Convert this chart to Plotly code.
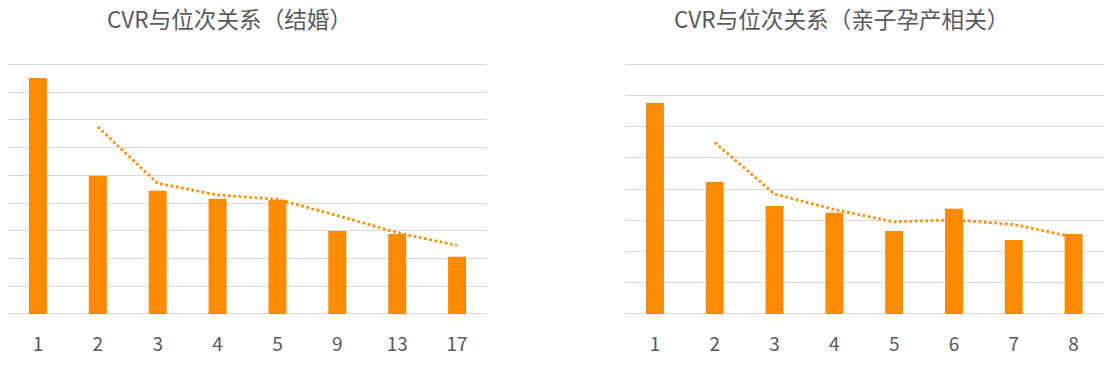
import plotly.graph_objects as go
import pandas as pd

# Left chart: 结婚
cats_left = ["1", "2", "3", "4", "5", "9", "13", "17"]
vals_left = [8.51, 4.98, 4.44, 4.15, 4.11, 2.99, 2.88, 2.06]

# Right chart: 亲子孕产相关
cats_right = ["1", "2", "3", "4", "5", "6", "7", "8"]
vals_right = [6.76, 4.23, 3.46, 3.24, 2.66, 3.37, 2.37, 2.56]

title_left = "CVR与位次关系（结婚）"
title_right = "CVR与位次关系（亲子孕产相关）"

BAR = "#FF8C00"
GRID = "#D9D9D9"
TXT = "#595959"
FONT = "Noto Sans CJK SC"

# 2-period moving average trendline (as in the original chart)
ma_left = pd.Series(vals_left).rolling(2).mean().tolist()
ma_right = pd.Series(vals_right).rolling(2).mean().tolist()

W, H = 1111, 366
fig = go.Figure()

fig.add_trace(go.Bar(x=cats_left, y=vals_left, marker=dict(color=BAR, line=dict(width=0)),
                     xaxis="x", yaxis="y", showlegend=False))
fig.add_trace(go.Scatter(x=cats_left, y=ma_left, mode="lines",
                         line=dict(color=BAR, width=2.7, dash="2.7px,2.6px"),
                         xaxis="x", yaxis="y", showlegend=False, connectgaps=False))
fig.add_trace(go.Bar(x=cats_right, y=vals_right, marker=dict(color=BAR, line=dict(width=0)),
                     xaxis="x2", yaxis="y2", showlegend=False))
fig.add_trace(go.Scatter(x=cats_right, y=ma_right, mode="lines",
                         line=dict(color=BAR, width=2.7, dash="2.7px,2.6px"),
                         xaxis="x2", yaxis="y2", showlegend=False, connectgaps=False))

BASE = 314.0
TOP = 64.3
ext = 1.03  # headroom so the top gridline is drawn
top_px = BASE - (BASE - TOP) * ext
ydom = [(H - BASE) / H, (H - top_px) / H]

xcommon = dict(type="category", showgrid=False, showline=False, zeroline=False,
               ticks="", tickfont=dict(family=FONT, size=19, color=TXT),
               ticklabelstandoff=17, fixedrange=True)
ycommon = dict(showgrid=True, gridcolor=GRID, gridwidth=1, showticklabels=False,
               zeroline=True, zerolinecolor=GRID, zerolinewidth=1, ticks="",
               dtick=1, tick0=0, fixedrange=True)

fig.update_layout(
    width=W, height=H,
    margin=dict(l=0, r=0, t=0, b=0),
    paper_bgcolor="white", plot_bgcolor="white",
    bargap=0.7,
    xaxis=dict(domain=[8 / W, 487 / W], anchor="y", **xcommon),
    yaxis=dict(domain=ydom, anchor="x", range=[0, 9 * ext], **ycommon),
    xaxis2=dict(domain=[625 / W, 1103.5 / W], anchor="y2", **xcommon),
    yaxis2=dict(domain=ydom, anchor="x2", range=[0, 8 * ext], **ycommon),
    annotations=[
        dict(text=title_left, x=230 / W, y=(H - 18) / H, xref="paper", yref="paper",
             xanchor="center", yanchor="middle", showarrow=False,
             font=dict(family=FONT, size=22.6, color=TXT)),
        dict(text=title_right, x=841.5 / W, y=(H - 18) / H, xref="paper", yref="paper",
             xanchor="center", yanchor="middle", showarrow=False,
             font=dict(family=FONT, size=22.6, color=TXT)),
    ],
)

fig.write_html("out.html", config={"displayModeBar": False},
               post_script="document.body.style.margin='0';")
